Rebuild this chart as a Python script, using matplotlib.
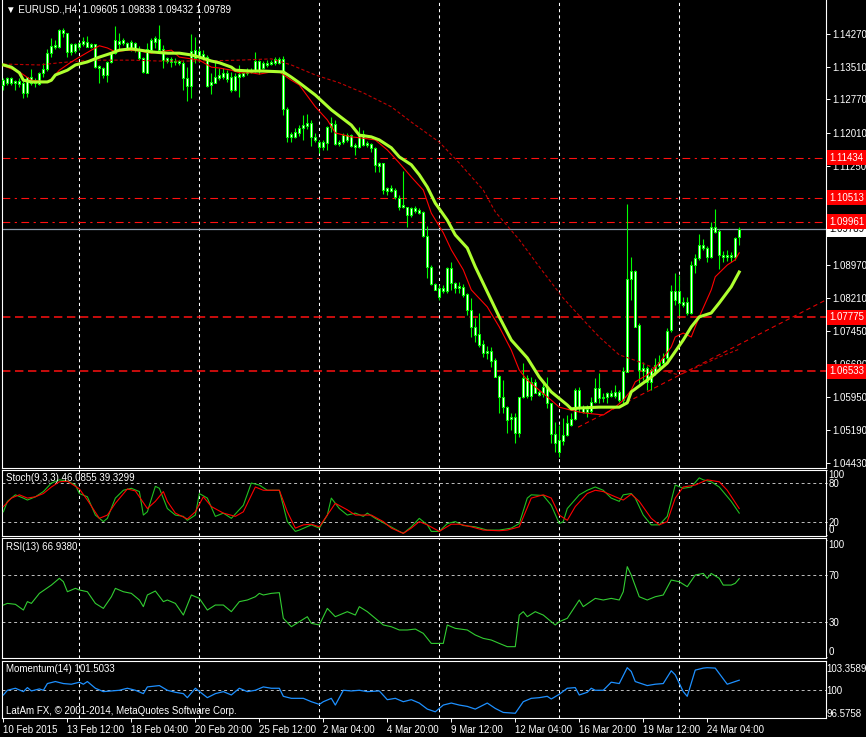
import matplotlib
matplotlib.use('Agg')
import matplotlib.pyplot as plt
from matplotlib.transforms import blended_transform_factory

plt.rcParams['font.family'] = ['Liberation Sans', 'DejaVu Sans']
plt.rcParams['font.size'] = 7

W, H = 866, 737
BG = 'black'
FG = 'white'
CANDLE = '#00ff00'

# EURUSD H4 candles
opens = [1.1310, 1.1326, 1.1326, 1.1319, 1.1319, 1.1292, 1.1292, 1.1328, 1.1315, 1.1312,
         1.1338, 1.1347, 1.1383, 1.1397, 1.1397, 1.1436, 1.1429, 1.1386, 1.1388, 1.1397,
         1.1411, 1.1409, 1.1404, 1.1404, 1.1354, 1.1333, 1.1333, 1.1363, 1.1383, 1.1404,
         1.1413, 1.1395, 1.1409, 1.1406, 1.1390, 1.1372, 1.1338, 1.1390, 1.1418, 1.1415,
         1.1393, 1.1372, 1.1370, 1.1365, 1.1365, 1.1361, 1.1326, 1.1308, 1.1390, 1.1388,
         1.1381, 1.1374, 1.1310, 1.1315, 1.1326, 1.1338, 1.1338, 1.1328, 1.1299, 1.1328,
         1.1331, 1.1338, 1.1340, 1.1342, 1.1365, 1.1349, 1.1356, 1.1358, 1.1361, 1.1370,
         1.1370, 1.1255, 1.1191, 1.1191, 1.1200, 1.1211, 1.1216, 1.1223, 1.1191, 1.1179,
         1.1168, 1.1177, 1.1223, 1.1221, 1.1175, 1.1179, 1.1195, 1.1195, 1.1168, 1.1168,
         1.1198, 1.1177, 1.1175, 1.1166, 1.1131, 1.1131, 1.1074, 1.1074, 1.1069, 1.1051,
         1.1035, 1.1030, 1.1012, 1.1028, 1.1023, 1.1019, 1.0964, 1.0893, 1.0854, 1.0824,
         1.0837, 1.0837, 1.0890, 1.0856, 1.0849, 1.0847, 1.0831, 1.0794, 1.0755, 1.0739,
         1.0716, 1.0700, 1.0700, 1.0679, 1.0642, 1.0594, 1.0571, 1.0548, 1.0548, 1.0512,
         1.0594, 1.0638, 1.0597, 1.0629, 1.0599, 1.0617, 1.0615, 1.0581, 1.0509, 1.0468,
         1.0493, 1.0507, 1.0530, 1.0544, 1.0610, 1.0569, 1.0560, 1.0562, 1.0583, 1.0615,
         1.0592, 1.0594, 1.0597, 1.0606, 1.0606, 1.0587, 1.0652, 1.0865, 1.0883, 1.0759,
         1.0661, 1.0661, 1.0629, 1.0652, 1.0665, 1.0672, 1.0684, 1.0748, 1.0837, 1.0810,
         1.0812, 1.0812, 1.0787, 1.0897, 1.0913, 1.0943, 1.0936, 1.0915, 1.0984, 1.0975,
         1.0915, 1.0920, 1.0915, 1.0915, 1.09605]
highs = [1.1326, 1.1328, 1.1328, 1.1321, 1.1326, 1.1326, 1.1328, 1.1347, 1.1326, 1.1340,
         1.1361, 1.1393, 1.1418, 1.1413, 1.1438, 1.1441, 1.1429, 1.1406, 1.1406, 1.1409,
         1.1420, 1.1422, 1.1406, 1.1404, 1.1356, 1.1351, 1.1365, 1.1386, 1.1445, 1.1429,
         1.1418, 1.1409, 1.1413, 1.1409, 1.1400, 1.1374, 1.1406, 1.1418, 1.1422, 1.1448,
         1.1402, 1.1374, 1.1374, 1.1372, 1.1367, 1.1367, 1.1351, 1.1427, 1.1420, 1.1395,
         1.1390, 1.1379, 1.1338, 1.1363, 1.1349, 1.1349, 1.1344, 1.1340, 1.1338, 1.1356,
         1.1340, 1.1349, 1.1349, 1.1386, 1.1367, 1.1365, 1.1367, 1.1367, 1.1374, 1.1374,
         1.1377, 1.1260, 1.1202, 1.1211, 1.1218, 1.1241, 1.1243, 1.1230, 1.1200, 1.1184,
         1.1184, 1.1216, 1.1237, 1.1230, 1.1184, 1.1200, 1.1200, 1.1198, 1.1177, 1.1214,
         1.1207, 1.1182, 1.1177, 1.1168, 1.1133, 1.1131, 1.1076, 1.1081, 1.1074, 1.1058,
         1.1113, 1.1030, 1.1030, 1.1032, 1.1028, 1.1021, 1.0987, 1.0897, 1.0856, 1.0851,
         1.0851, 1.0893, 1.0904, 1.0858, 1.0858, 1.0854, 1.0833, 1.0821, 1.0776, 1.0787,
         1.0725, 1.0711, 1.0709, 1.0684, 1.0645, 1.0633, 1.0574, 1.0558, 1.0558, 1.0594,
         1.0672, 1.0645, 1.0640, 1.0636, 1.0610, 1.0629, 1.0640, 1.0581, 1.0537, 1.0530,
         1.0546, 1.0553, 1.0558, 1.0615, 1.0617, 1.0576, 1.0576, 1.0594, 1.0638, 1.0649,
         1.0603, 1.0606, 1.0610, 1.0622, 1.0610, 1.0663, 1.1037, 1.0915, 1.0886, 1.0764,
         1.0675, 1.0665, 1.0661, 1.0684, 1.0691, 1.0695, 1.0753, 1.0851, 1.0879, 1.0874,
         1.0824, 1.0824, 1.0906, 1.0922, 1.0968, 1.0957, 1.0941, 1.0996, 1.1026, 1.0980,
         1.0929, 1.0932, 1.0927, 1.0961, 1.09838]
lows = [1.1299, 1.1310, 1.1310, 1.1299, 1.1305, 1.1280, 1.1282, 1.1310, 1.1305, 1.1310,
        1.1328, 1.1342, 1.1374, 1.1393, 1.1395, 1.1420, 1.1374, 1.1379, 1.1383, 1.1390,
        1.1400, 1.1397, 1.1395, 1.1349, 1.1315, 1.1326, 1.1317, 1.1361, 1.1381, 1.1390,
        1.1402, 1.1390, 1.1388, 1.1386, 1.1367, 1.1338, 1.1338, 1.1386, 1.1395, 1.1388,
        1.1349, 1.1361, 1.1351, 1.1356, 1.1356, 1.1299, 1.1273, 1.1280, 1.1361, 1.1363,
        1.1367, 1.1305, 1.1289, 1.1315, 1.1321, 1.1324, 1.1317, 1.1294, 1.1296, 1.1282,
        1.1328, 1.1333, 1.1338, 1.1340, 1.1335, 1.1347, 1.1351, 1.1356, 1.1356, 1.1358,
        1.1241, 1.1179, 1.1179, 1.1188, 1.1193, 1.1184, 1.1209, 1.1170, 1.1179, 1.1154,
        1.1161, 1.1161, 1.1202, 1.1172, 1.1170, 1.1175, 1.1179, 1.1168, 1.1149, 1.1166,
        1.1170, 1.1168, 1.1156, 1.1110, 1.1110, 1.1060, 1.1058, 1.1065, 1.1049, 1.1023,
        1.1028, 1.0984, 1.1007, 1.1016, 1.1014, 1.0961, 1.0867, 1.0851, 1.0840, 1.0817,
        1.0833, 1.0833, 1.0840, 1.0833, 1.0833, 1.0824, 1.0782, 1.0732, 1.0721, 1.0709,
        1.0686, 1.0682, 1.0663, 1.0640, 1.0558, 1.0558, 1.0512, 1.0519, 1.0489, 1.0503,
        1.0592, 1.0592, 1.0587, 1.0603, 1.0597, 1.0594, 1.0569, 1.0489, 1.0468, 1.0457,
        1.0484, 1.0505, 1.0528, 1.0542, 1.0560, 1.0558, 1.0548, 1.0558, 1.0581, 1.0581,
        1.0583, 1.0581, 1.0594, 1.0592, 1.0583, 1.0581, 1.0652, 1.0817, 1.0755, 1.0626,
        1.0633, 1.0610, 1.0610, 1.0645, 1.0661, 1.0668, 1.0679, 1.0743, 1.0805, 1.0782,
        1.0801, 1.0782, 1.0785, 1.0879, 1.0909, 1.0932, 1.0904, 1.0913, 1.0971, 1.0888,
        1.0904, 1.0906, 1.0904, 1.0909, 1.09432]
closes = [1.1321, 1.1315, 1.1315, 1.1315, 1.1312, 1.1315, 1.1328, 1.1315, 1.1317, 1.1338,
          1.1347, 1.1383, 1.1400, 1.1402, 1.1436, 1.1429, 1.1386, 1.1404, 1.1404, 1.1406,
          1.1404, 1.1397, 1.1397, 1.1351, 1.1349, 1.1349, 1.1363, 1.1383, 1.1413, 1.1411,
          1.1406, 1.1406, 1.1395, 1.1390, 1.1372, 1.1340, 1.1393, 1.1413, 1.1409, 1.1390,
          1.1367, 1.1365, 1.1363, 1.1363, 1.1361, 1.1326, 1.1308, 1.1388, 1.1372, 1.1374,
          1.1372, 1.1308, 1.1317, 1.1328, 1.1333, 1.1328, 1.1324, 1.1299, 1.1331, 1.1335,
          1.1338, 1.1342, 1.1344, 1.1365, 1.1344, 1.1361, 1.1361, 1.1363, 1.1370, 1.1361,
          1.1255, 1.1191, 1.1198, 1.1202, 1.1211, 1.1218, 1.1223, 1.1191, 1.1184, 1.1168,
          1.1179, 1.1214, 1.1214, 1.1175, 1.1179, 1.1195, 1.1184, 1.1170, 1.1172, 1.1195,
          1.1172, 1.1172, 1.1166, 1.1127, 1.1124, 1.1069, 1.1067, 1.1067, 1.1053, 1.1030,
          1.1030, 1.1012, 1.1028, 1.1021, 1.1016, 1.0964, 1.0893, 1.0854, 1.0840, 1.0844,
          1.0844, 1.0890, 1.0856, 1.0844, 1.0844, 1.0828, 1.0794, 1.0755, 1.0737, 1.0714,
          1.0695, 1.0695, 1.0677, 1.0640, 1.0594, 1.0571, 1.0542, 1.0544, 1.0512, 1.0594,
          1.0638, 1.0597, 1.0629, 1.0603, 1.0606, 1.0601, 1.0581, 1.0509, 1.0489, 1.0496,
          1.0507, 1.0535, 1.0544, 1.0610, 1.0569, 1.0560, 1.0567, 1.0583, 1.0615, 1.0592,
          1.0594, 1.0603, 1.0603, 1.0597, 1.0587, 1.0654, 1.0865, 1.0883, 1.0755, 1.0656,
          1.0654, 1.0629, 1.0656, 1.0668, 1.0675, 1.0684, 1.0746, 1.0837, 1.0817, 1.0837,
          1.0805, 1.0787, 1.0897, 1.0913, 1.0943, 1.0936, 1.0915, 1.0984, 1.0973, 1.0920,
          1.0920, 1.0915, 1.0920, 1.0959, 1.09789]

# moving averages (bar index, price)
lime_x = [0, 2, 4, 5, 7, 11, 12, 13, 16, 18, 21, 24, 27, 29, 32, 37, 41, 44, 47, 49,
          52, 54, 57, 58, 62, 65, 70, 72, 74, 78, 82, 87, 89, 92, 94, 97, 99, 102, 104, 106,
          108, 111, 113, 116, 118, 124, 127, 131, 134, 137, 141, 142, 144, 149, 154, 156, 157, 162, 166, 170,
          172, 174, 177, 179, 182, 184]
lime_y = [1.1356, 1.1351, 1.1338, 1.1321, 1.1317, 1.1317, 1.1321, 1.1333, 1.1344, 1.1356,
          1.1363, 1.1374, 1.1383, 1.1390, 1.1393, 1.1386, 1.1383, 1.1383, 1.1379, 1.1374,
          1.1365, 1.1361, 1.1351, 1.1344, 1.1342, 1.1342, 1.1340, 1.1328, 1.1315, 1.1287,
          1.1253, 1.1218, 1.1195, 1.1191, 1.1184, 1.1166, 1.1145, 1.1127, 1.1104, 1.1076,
          1.1039, 1.1000, 1.0966, 1.0936, 1.0893, 1.0778, 1.0725, 1.0684, 1.0640, 1.0606,
          1.0576, 1.0567, 1.0569, 1.0571, 1.0571, 1.0581, 1.0606, 1.0640, 1.0672, 1.0725,
          1.0755, 1.0778, 1.0787, 1.0810, 1.0847, 1.0881]
red_x = [0, 4, 7, 11, 12, 14, 17, 19, 22, 24, 26, 28, 31, 34, 37, 39, 42, 44, 47, 49,
         52, 54, 57, 59, 62, 64, 67, 69, 72, 74, 78, 81, 83, 87, 90, 93, 96, 99, 102, 105,
         107, 110, 112, 115, 117, 121, 124, 127, 129, 131, 134, 137, 139, 142, 145, 150, 153, 155, 157, 158,
         161, 164, 167, 168, 170, 172, 174, 177, 178, 181, 183, 184]
red_y = [1.1354, 1.1340, 1.1321, 1.1317, 1.1324, 1.1344, 1.1363, 1.1374, 1.1390, 1.1400,
         1.1395, 1.1386, 1.1390, 1.1388, 1.1383, 1.1386, 1.1390, 1.1374, 1.1370, 1.1367,
         1.1351, 1.1349, 1.1344, 1.1338, 1.1338, 1.1335, 1.1340, 1.1340, 1.1321, 1.1310,
         1.1260, 1.1230, 1.1200, 1.1191, 1.1188, 1.1184, 1.1161, 1.1131, 1.1099, 1.1069,
         1.1016, 1.0971, 1.0932, 1.0886, 1.0840, 1.0801, 1.0755, 1.0702, 1.0656, 1.0633,
         1.0610, 1.0587, 1.0571, 1.0564, 1.0558, 1.0553, 1.0571, 1.0587, 1.0610, 1.0629,
         1.0645, 1.0672, 1.0709, 1.0732, 1.0741, 1.0732, 1.0778, 1.0840, 1.0870, 1.0897,
         1.0909, 1.0925]
long_x = [0, 9, 14, 19, 24, 32, 39, 49, 59, 67, 72, 78, 84, 90, 97, 102, 109, 114, 120, 123,
          129, 134, 140, 145, 149, 154, 159, 164, 169, 174, 179, 184]
long_y = [1.1358, 1.1356, 1.1361, 1.1365, 1.1367, 1.1367, 1.1365, 1.1365, 1.1367, 1.1370,
          1.1356, 1.1333, 1.1315, 1.1292, 1.1260, 1.1225, 1.1179, 1.1131, 1.1069, 1.1019,
          1.0955, 1.0893, 1.0821, 1.0771, 1.0732, 1.0691, 1.0675, 1.0656, 1.0645, 1.0665,
          1.0686, 1.0704]

# drawn objects
trend_x = [143.7, 205.7]
trend_y = [1.0525, 1.0817]
levels_thin = [1.11434, 1.10513, 1.09961]
levels_thick = [1.07775, 1.06533]
bid = 1.09789

price_ticks = [1.14270, 1.13510, 1.12770, 1.12010, 1.11250, 1.10490, 1.09730,
               1.08970, 1.08210, 1.07450, 1.06690, 1.05950, 1.05190, 1.04430]
hidden_ticks = [1.10490, 1.09730]   # covered by the line labels in the terminal
time_ticks = [0, 16, 32, 48, 64, 80, 96, 112, 128, 144, 160, 176]
time_labels = ['10 Feb 2015', '13 Feb 12:00', '18 Feb 04:00', '20 Feb 20:00', '25 Feb 12:00',
               '2 Mar 04:00', '4 Mar 20:00', '9 Mar 12:00', '12 Mar 04:00', '16 Mar 20:00',
               '19 Mar 12:00', '24 Mar 04:00']
grid_bars = [19, 49, 79, 109, 139, 169]

# indicators
stoch_k_x = [0, 1, 3, 5, 6, 8, 10, 12, 14, 16, 18, 19, 21, 23, 25, 26, 28, 30, 32, 34,
             35, 36, 38, 39, 41, 43, 45, 46, 48, 49, 51, 53, 55, 57, 60, 62, 64, 66, 69, 71,
             73, 74, 77, 79, 81, 82, 84, 86, 88, 90, 91, 93, 96, 99, 100, 102, 104, 106, 107, 109,
             111, 113, 115, 118, 121, 124, 127, 129, 131, 132, 135, 137, 139, 140, 141, 144, 146, 148, 150, 152,
             154, 155, 157, 158, 160, 162, 164, 166, 168, 170, 172, 174, 175, 177, 179, 182, 184]
stoch_k = [36, 52, 62, 57, 54, 59, 67, 80, 85, 83, 77, 64, 59, 31, 21, 26, 57, 69, 72, 67,
           31, 36, 75, 72, 41, 31, 29, 23, 31, 64, 57, 29, 34, 26, 46, 80, 77, 69, 69, 21,
           6, 8, 16, 11, 31, 57, 41, 31, 34, 29, 34, 26, 16, 6, 3, 13, 26, 16, 6, 6,
           18, 21, 15, 13, 8, 8, 11, 18, 57, 62, 61, 46, 18, 21, 41, 62, 69, 74, 69, 57,
           52, 62, 64, 57, 31, 16, 16, 29, 77, 72, 74, 88, 85, 82, 74, 52, 34]
stoch_d_x = [0, 2, 4, 6, 8, 10, 12, 14, 16, 19, 21, 24, 26, 28, 31, 33, 36, 38, 40, 41,
             43, 46, 48, 50, 52, 55, 58, 60, 63, 65, 69, 71, 73, 75, 77, 79, 81, 83, 86, 88,
             90, 92, 95, 97, 100, 102, 104, 106, 109, 112, 114, 117, 120, 124, 126, 129, 132, 135, 137, 139,
             141, 143, 146, 148, 150, 153, 155, 157, 159, 162, 164, 166, 168, 170, 173, 176, 179, 181, 184]
stoch_d = [44, 57, 62, 57, 59, 64, 74, 82, 83, 71, 54, 26, 31, 49, 71, 68, 41, 52, 67, 52,
           34, 25, 36, 59, 44, 34, 29, 36, 74, 69, 69, 36, 11, 16, 17, 13, 31, 49, 39, 31,
           31, 31, 21, 11, 3, 11, 21, 16, 6, 17, 17, 13, 8, 7, 8, 13, 57, 62, 57, 31,
           23, 44, 64, 69, 67, 59, 54, 63, 52, 26, 16, 21, 57, 74, 77, 85, 82, 69, 41]
rsi_x = [0, 1, 3, 5, 6, 7, 9, 12, 14, 15, 16, 18, 19, 21, 23, 25, 27, 28, 30, 32,
         34, 35, 36, 38, 40, 41, 43, 45, 47, 49, 51, 53, 55, 57, 59, 61, 63, 64, 65, 67,
         69, 70, 72, 74, 76, 77, 79, 81, 83, 86, 88, 89, 91, 93, 95, 97, 99, 101, 103, 105,
         107, 110, 111, 113, 116, 118, 120, 122, 124, 126, 128, 129, 130, 131, 133, 135, 137, 138, 139, 141,
         144, 145, 148, 150, 152, 154, 155, 156, 157, 159, 161, 163, 165, 167, 169, 171, 173, 175, 176, 177,
         179, 180, 182, 183, 184]
rsi = [44.3, 45.7, 44.9, 40.0, 47.2, 45.7, 54.3, 61.4, 67.2, 64.3, 55.7, 58.6, 57.2, 55.7, 45.7, 41.4, 51.4, 58.6, 55.7, 54.3,
       48.6, 42.9, 52.9, 56.3, 47.2, 48.6, 45.7, 35.7, 52.9, 50.0, 40.0, 44.3, 44.3, 38.6, 47.2, 48.6, 51.4, 54.3, 52.9, 54.3,
       54.9, 32.9, 25.7, 30.0, 34.3, 28.6, 27.2, 41.4, 34.3, 38.6, 35.7, 42.9, 38.6, 32.9, 27.2, 25.7, 22.9, 22.9, 23.7, 20.0,
       11.4, 11.4, 27.2, 24.3, 22.9, 18.6, 15.7, 14.3, 11.4, 8.6, 8.6, 35.7, 38.6, 34.3, 38.6, 35.7, 30.0, 27.2, 30.0, 32.9,
       48.6, 42.9, 50.0, 48.6, 50.0, 48.6, 55.7, 77.2, 70.0, 51.4, 48.6, 51.4, 52.9, 65.7, 64.3, 60.0, 70.0, 71.4, 67.2, 71.4,
       67.2, 61.4, 61.4, 62.9, 66.9]
mom_x = [0, 1, 3, 5, 6, 7, 9, 10, 11, 13, 15, 17, 19, 20, 21, 23, 25, 27, 29, 31,
         33, 35, 36, 39, 41, 43, 45, 46, 48, 51, 53, 55, 57, 59, 61, 63, 65, 67, 69, 70,
         72, 75, 77, 79, 80, 82, 83, 85, 87, 89, 91, 94, 96, 98, 100, 102, 104, 106, 108, 110,
         112, 114, 116, 118, 121, 123, 125, 128, 130, 132, 134, 136, 137, 139, 141, 143, 144, 146, 147, 148,
         150, 152, 154, 156, 157, 158, 161, 163, 165, 167, 168, 170, 171, 173, 175, 176, 178, 179, 181, 184]
mom = [99.3, 100.0, 100.3, 99.8, 100.4, 99.9, 100.2, 100.0, 101.0, 101.3, 101.0, 100.9, 101.2, 100.9, 101.3, 100.3, 99.8, 99.9, 100.0, 100.3,
       100.0, 99.5, 100.5, 100.7, 100.0, 99.7, 99.5, 98.9, 100.3, 98.9, 99.5, 99.8, 99.3, 100.3, 99.8, 100.0, 100.5, 100.3, 100.3, 99.1,
       98.8, 98.8, 98.3, 97.9, 98.3, 98.8, 97.8, 100.0, 99.9, 100.0, 99.8, 99.9, 98.6, 98.8, 98.3, 98.6, 98.1, 97.2, 96.8, 97.8,
       98.1, 97.8, 97.6, 97.2, 98.1, 97.3, 96.7, 96.58, 98.3, 98.8, 98.9, 99.1, 98.7, 99.4, 100.3, 100.4, 99.3, 99.7, 100.3, 100.0,
       100.0, 101.2, 101.0, 103.36, 102.8, 101.3, 100.7, 100.9, 101.0, 102.9, 102.3, 99.8, 99.1, 103.0, 103.3, 103.36, 103.3, 102.5, 100.9, 101.5]

fig = plt.figure(figsize=(W / 100, H / 100), dpi=100, facecolor=BG)


def panel(top, bottom):
    ax = fig.add_axes([2 / W, 1 - bottom / H, 824 / W, (bottom - top) / H], facecolor=BG)
    for s in ax.spines.values():
        s.set_color(FG)
        s.set_linewidth(0.8)
    ax.yaxis.tick_right()
    ax.tick_params(colors=FG, labelsize=7, length=3, width=0.7, pad=1.5)
    ax.set_xlim(-0.35, 205.7)
    ax.set_xticks([])
    for g in grid_bars:
        ax.axvline(g, color=FG, lw=0.75, ls=(0, (3, 3)), zorder=1)
    return ax


def edge_labels(ax):
    labels = ax.get_yticklabels()
    labels[0].set_va('bottom')
    labels[-1].set_va('top')


# main price window
ax = panel(0, 467.7)
ax.spines['top'].set_visible(False)
ax.set_ylim(1.04321, 1.15050)
ax.set_yticks(price_ticks)
ax.set_yticklabels(['' if v in hidden_ticks else f'{v:.5f}' for v in price_ticks])

n = len(closes)
xs = list(range(n))
body_lo = [min(o, c) for o, c in zip(opens, closes)]
body_h = [abs(c - o) for o, c in zip(opens, closes)]
ax.vlines(xs, lows, highs, color=CANDLE, lw=0.8, zorder=3)
ax.bar(xs, body_h, bottom=body_lo, width=0.5, color='white', edgecolor=CANDLE,
       linewidth=0.75, zorder=4)

ax.plot(long_x, long_y, color='#c00000', lw=0.8, ls=(0, (3, 2)), zorder=5)
ax.plot(red_x, red_y, color='#ff0000', lw=0.8, zorder=5)
ax.plot(lime_x, lime_y, color='#adff2f', lw=2.2, zorder=6)

for v in levels_thin:
    ax.axhline(v, color='#ff1010', lw=0.8, ls=(0, (7, 4, 2, 4)), zorder=2)
for v in levels_thick:
    ax.axhline(v, color='#ff1010', lw=1.1, ls=(0, (5.5, 3)), zorder=2)
ax.plot(trend_x, trend_y, color='#e00000', lw=0.8, ls=(0, (4, 3)), zorder=2)
ax.axhline(bid, color='#8a9aaa', lw=0.9, zorder=2)

tr = blended_transform_factory(ax.transAxes, ax.transData)
ax.text(1.0 + 3 / 824, bid, f'{bid:.5f}', transform=tr, ha='left', va='center', color='black',
        fontsize=7, bbox=dict(boxstyle='square,pad=0.25', fc='white', ec='none'),
        clip_on=False, zorder=20)
for v in levels_thin + levels_thick:
    ax.text(1.0 + 3 / 824, v, f'{v:.5f}', transform=tr, ha='left', va='center', color='white',
            fontsize=7, bbox=dict(boxstyle='square,pad=0.25', fc='#ff0000', ec='none'),
            clip_on=False, zorder=21)

# stochastic
ax_st = panel(469.7, 535.7)
ax_st.set_ylim(-0.6, 100.5)
ax_st.set_yticks([0, 20, 80, 100])
ax_st.tick_params(length=1, pad=1)
edge_labels(ax_st)
for v in (20, 80):
    ax_st.axhline(v, color='#c0c0c0', lw=0.7, ls=(0, (3, 3)), zorder=1)
ax_st.plot(stoch_k_x, stoch_k, color='#20c020', lw=0.8, zorder=3)
ax_st.plot(stoch_d_x, stoch_d, color='#ff0000', lw=0.8, zorder=4)

# rsi
ax_rsi = panel(538.3, 657.7)
ax_rsi.set_ylim(-0.86, 101.5)
ax_rsi.set_yticks([0, 30, 70, 100])
ax_rsi.tick_params(length=1, pad=1)
edge_labels(ax_rsi)
for v in (30, 70):
    ax_rsi.axhline(v, color='#c0c0c0', lw=0.7, ls=(0, (3, 3)), zorder=1)
ax_rsi.plot(rsi_x, rsi, color='#32cd32', lw=0.8, zorder=3)

# momentum
ax_m = panel(660.7, 718.3)
ax_m.set_ylim(95.83, 104.40)
ax_m.set_yticks([96.5758, 100, 103.3589])
ax_m.set_yticklabels(['96.5758', '100', '103.3589'])
ax_m.tick_params(axis='y', length=0, pad=0.5)
ax_m.axhline(100, color='#c0c0c0', lw=0.7, ls=(0, (3, 3)), zorder=1)
ax_m.plot(mom_x, mom, color='#1e90ff', lw=0.9, zorder=3)
ax_m.set_xticks(time_ticks)
ax_m.set_xticklabels(time_labels, ha='left')
ax_m.tick_params(axis='x', colors=FG, length=3, pad=1.5)


def label(x, y, s):
    fig.text(x / W, 1 - y / H, s, color=FG, fontsize=7, ha='left', va='center')


label(6, 10, '\u25bc EURUSD.,H4  1.09605 1.09838 1.09432 1.09789')
label(6, 478, 'Stoch(9,3,3) 46.0855 39.3299')
label(6, 546.5, 'RSI(13) 66.9380')
label(6, 669, 'Momentum(14) 101.5033')
label(6, 711.5, 'LatAm FX, \u00a9 2001-2014, MetaQuotes Software Corp.')

fig.savefig('out.png', dpi=100, facecolor=BG)
